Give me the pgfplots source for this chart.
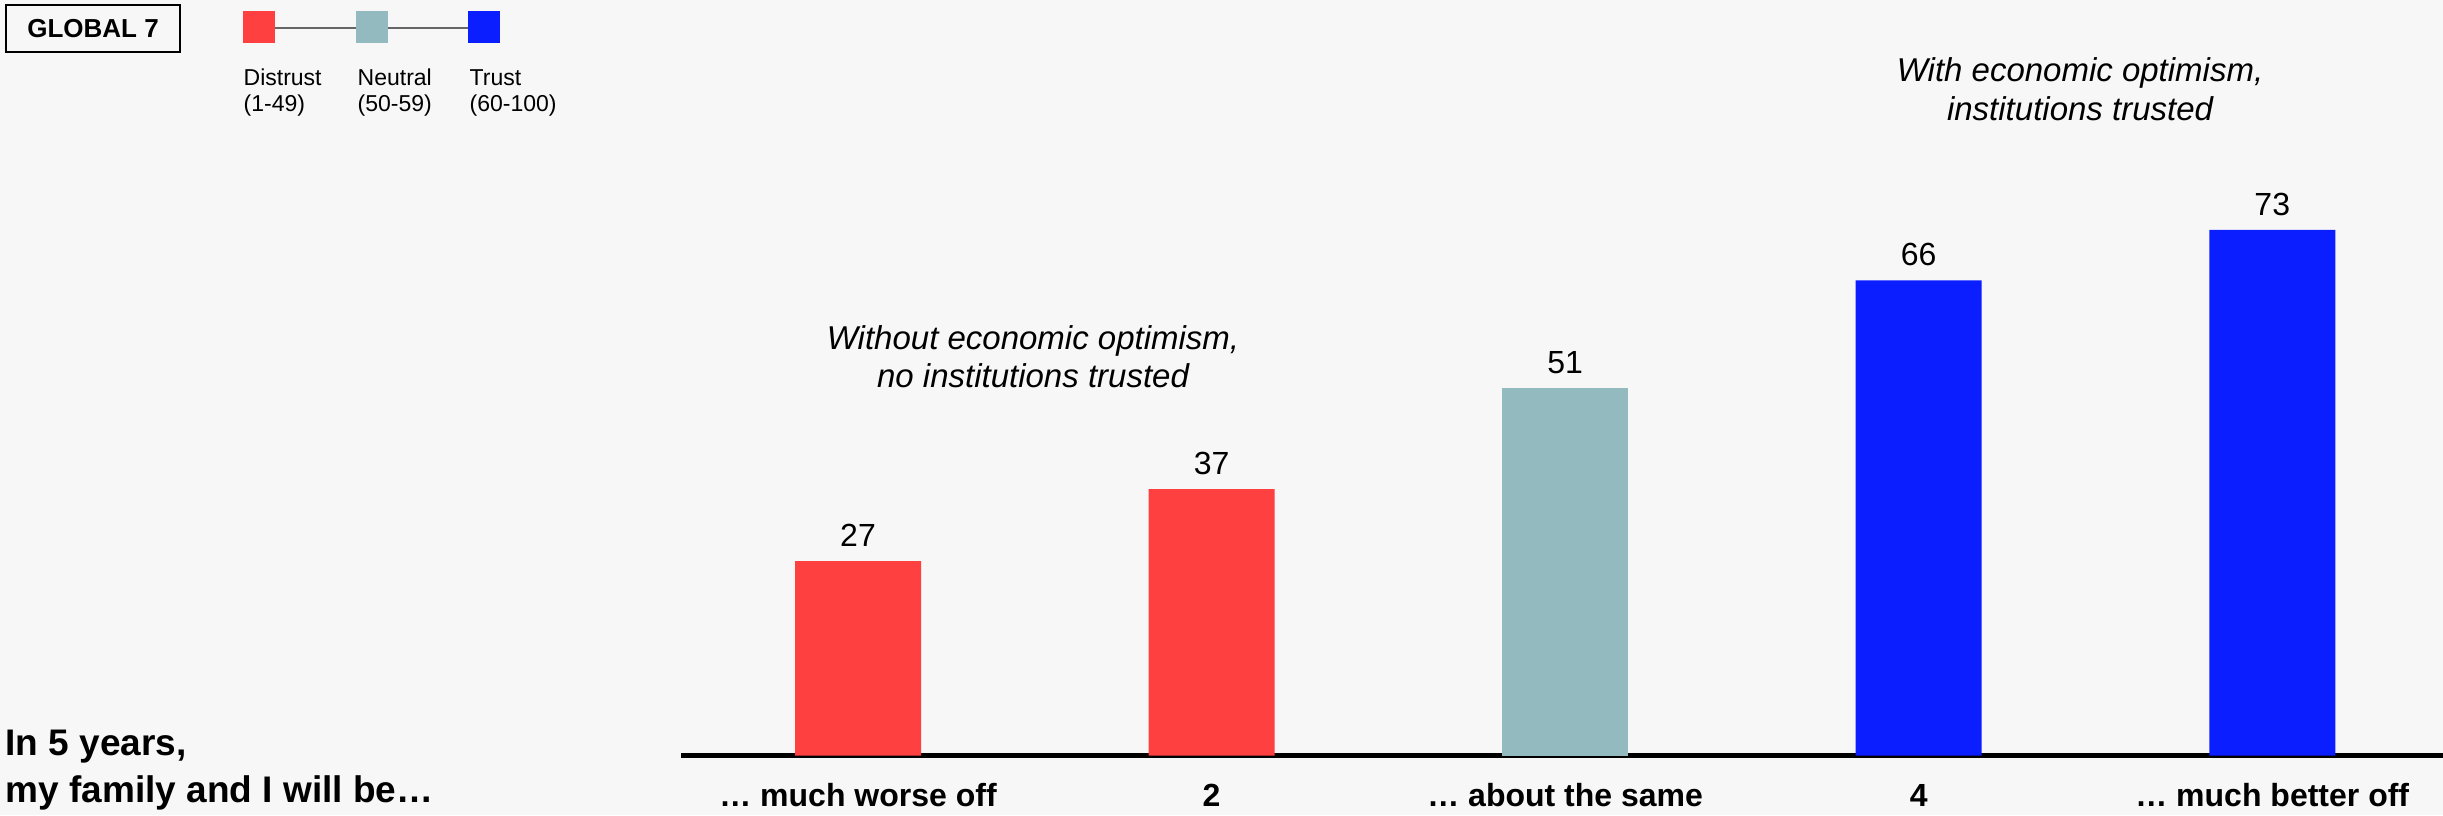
\documentclass[border=0pt]{standalone}
\usepackage{fontspec}
\setmainfont{Liberation Sans}
\usepackage{pgfplots}
\pgfplotsset{compat=1.18}
\definecolor{bg}{HTML}{F7F7F7}
\definecolor{cred}{HTML}{FF4040}
\definecolor{cteal}{HTML}{93BABF}
\definecolor{cblue}{HTML}{0A1EFF}
\definecolor{cgray}{HTML}{666666}
\begin{document}
\begin{tikzpicture}
\useasboundingbox (0pt,0pt) rectangle (732.9pt,-244.5pt);
\begin{scope}[x=0.3pt,y=-0.3pt]
\fill[bg] (0,0) rectangle (2443,815);
% GLOBAL 7 box
\draw[line width=0.6pt] (6,5) rectangle (180,52);
\node[font=\bfseries\fontsize{7.8}{9}\selectfont] at (93,29) {GLOBAL 7};
% legend
\draw[cgray, line width=0.6pt] (275,28) -- (469,28);
\fill[cred] (243,11) rectangle (275,43);
\fill[cteal] (356,11) rectangle (388,43);
\fill[cblue] (468,11) rectangle (500,43);
\begin{scope}[every node/.style={font=\fontsize{6.9}{8}\selectfont, anchor=base west, inner sep=0pt}]
\node at (243,85) {Distrust};
\node at (243,111) {(1-49)};
\node at (357,85) {Neutral};
\node at (357,111) {(50-59)};
\node at (469,85) {Trust};
\node at (469,111) {(60-100)};
\end{scope}
% title
\begin{scope}[every node/.style={font=\bfseries\fontsize{11.1}{13}\selectfont, anchor=base west, inner sep=0pt}]
\node at (5,755) {In 5 years,};
\node at (5,802) {my family and I will be…};
\end{scope}
% annotations
\begin{scope}[every node/.style={font=\itshape\fontsize{9.9}{11}\selectfont, anchor=base, inner sep=0pt}]
\node at (1033,349) {Without economic optimism,};
\node at (1033,387) {no institutions trusted};
\node at (2080,81) {With economic optimism,};
\node at (2080,120) {institutions trusted};
\end{scope}
\end{scope}
\begin{axis}[
  at={(204.375pt,-226.65pt)}, anchor=south west,
  scale only axis, width=528.525pt, height=216pt,
  xmin=-0.5, xmax=4.483, ymin=0, ymax=100,
  axis x line=bottom, axis y line=none,
  x axis line style={line width=1.5pt, -},
  xtick={0,1,2,3,4},
  xticklabels={… much worse off, 2, … about the same, 4, … much better off},
  major tick length=0pt,
  xticklabel style={font=\bfseries\fontsize{9.6}{11}\selectfont, anchor=base, inner sep=0pt, yshift=-15.3pt},
  /pgf/number format/assume math mode=true,
  ybar, bar width=37.8pt,
  nodes near coords,
  every node near coord/.append style={font=\fontsize{9.6}{11}\selectfont, yshift=0.8pt, text=black},
  clip=false,
]
\addplot[fill=cred, draw=none, bar shift=0pt] coordinates {(0,27) (1,37)};
\addplot[fill=cteal, draw=none, bar shift=0pt] coordinates {(2,51)};
\addplot[fill=cblue, draw=none, bar shift=0pt] coordinates {(3,66) (4,73)};
\end{axis}
\end{tikzpicture}
\end{document}
